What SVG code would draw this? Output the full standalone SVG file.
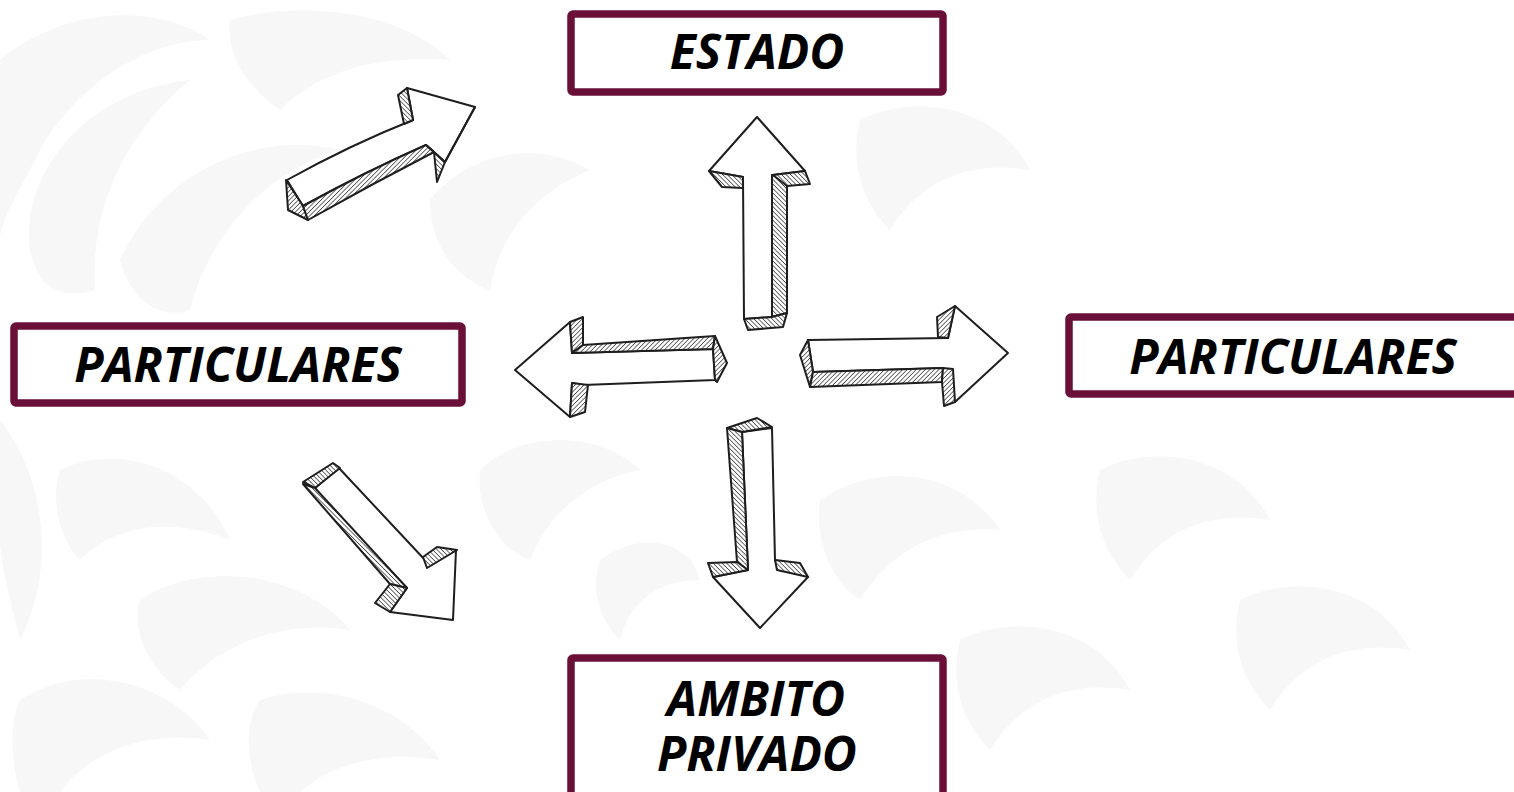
<svg xmlns="http://www.w3.org/2000/svg" width="1514" height="792" viewBox="0 0 1514 792">
<style>
.bg{fill:#f7f7f7}
.box{fill:#ffffff;stroke:#6a1038;stroke-width:7.5}
.lbl{font-family:"Open Sans","Noto Sans","DejaVu Sans",sans-serif;font-weight:700;font-style:italic;font-size:48px;fill:#000;text-anchor:middle}
.face{fill:#ffffff;stroke:#1e1e1e;stroke-width:2;stroke-linejoin:round}
.ha{fill:url(#hatchA);stroke:#1e1e1e;stroke-width:2;stroke-linejoin:round}
.hb{fill:url(#hatchB);stroke:#1e1e1e;stroke-width:2;stroke-linejoin:round}
</style>
<defs>
<pattern id="hatchA" width="3.2" height="3.2" patternUnits="userSpaceOnUse" patternTransform="rotate(45)">
<rect width="3.2" height="3.2" fill="#fff"/>
<line x1="0" y1="0" x2="0" y2="3.2" stroke="#222" stroke-width="1.3"/>
</pattern>
<pattern id="hatchB" width="3.2" height="3.2" patternUnits="userSpaceOnUse" patternTransform="rotate(-45)">
<rect width="3.2" height="3.2" fill="#fff"/>
<line x1="0" y1="0" x2="0" y2="3.2" stroke="#222" stroke-width="1.3"/>
</pattern>
</defs>
<rect width="1514" height="792" fill="#ffffff"/>
<g id="watermark">
<path class="bg" d="M0 60 C60 10 150 0 210 40 C150 40 80 80 40 150 C20 190 0 220 0 240 Z"/>
<path class="bg" d="M30 250 C20 170 90 90 190 80 C130 130 90 200 95 290 C60 300 40 290 30 250 Z"/>
<path class="bg" d="M120 260 C160 170 260 130 340 150 C270 170 210 230 190 310 C160 320 130 300 120 260 Z"/>
<path class="bg" d="M0 420 C40 470 60 560 20 640 C10 600 0 560 0 540 Z"/>
<path class="bg" d="M60 470 C120 440 200 470 230 540 C180 520 120 520 80 560 C60 540 50 500 60 470 Z"/>
<path class="bg" d="M140 600 C200 560 300 570 350 630 C290 620 220 640 180 690 C150 670 130 630 140 600 Z"/>
<path class="bg" d="M20 700 C80 660 170 680 210 740 C150 730 90 750 60 792 L20 792 C10 760 10 720 20 700 Z"/>
<path class="bg" d="M260 700 C320 680 400 700 440 760 C380 750 330 765 300 792 L260 792 C245 760 245 720 260 700 Z"/>
<path class="bg" d="M230 20 C300 0 400 10 450 60 C380 55 320 70 280 110 C250 90 225 55 230 20 Z"/>
<path class="bg" d="M430 200 C470 150 540 140 590 170 C540 190 500 230 490 290 C460 280 430 250 430 200 Z"/>
<path class="bg" d="M480 470 C520 430 600 430 640 470 C590 480 550 510 530 560 C500 550 475 510 480 470 Z"/>
<path class="bg" d="M820 500 C880 460 960 470 1000 530 C940 525 890 550 860 600 C830 580 815 540 820 500 Z"/>
<path class="bg" d="M960 640 C1020 610 1100 630 1130 690 C1070 680 1020 700 990 750 C960 720 950 680 960 640 Z"/>
<path class="bg" d="M1100 470 C1160 440 1240 460 1270 520 C1210 510 1160 530 1130 580 C1100 550 1090 510 1100 470 Z"/>
<path class="bg" d="M1240 600 C1300 570 1380 590 1410 650 C1350 640 1300 660 1270 710 C1240 680 1230 640 1240 600 Z"/>
<path class="bg" d="M860 120 C920 90 1000 110 1030 170 C970 160 920 180 890 230 C860 200 850 160 860 120 Z"/>
<path class="bg" d="M600 560 C640 530 690 540 700 580 C660 580 630 600 620 640 C600 620 590 590 600 560 Z"/>
</g>
<g id="connectors">
<g id="arrow-up-right">
<path class="face" d="M475 107 L407 88 L413 120 Q350 145 287 180 L303 206 Q365 172 426 145 L445 162 Z"/>
<path class="hb" d="M398 95 L407 88 L413 120 L404 124 Z"/>
<path class="ha" d="M286 180 L303 206 L308 220 L288 210 Z"/>
<path class="ha" d="M303 206 Q365 172 426 145 L434 152 Q370 185 308 220 Z"/>
<path class="hb" d="M426 145 L445 162 L437 182 L434 152 Z"/>
<path d="M445 162 L475 107" fill="none" stroke="#1e1e1e" stroke-width="2"/>
</g>
<g id="arrow-down-right">
<path class="face" d="M338 467 L425 560 L456 550 L453 620 L390 612 L407 588 L313 490 Z"/>
<path class="hb" d="M303 482 L333 463 L340 468 L315 488 Z"/>
<path class="hb" d="M303 484 L315 488 L407 588 L390 584 Z"/>
<path class="hb" d="M390 584 L407 588 L390 612 L375 603 Z"/>
<path class="hb" d="M423 557 L437 547 L457 550 L427 568 Z"/>
</g>
<g id="arrow-up">
<path class="face" d="M757 117 L709 171 L743 177 L744 319 L772 317 L772 175 L805 171 Z"/>
<path class="hb" d="M709 171 L743 177 L743 188 L722 187 Z"/>
<path class="hb" d="M772 175 L787 177 L787 313 L772 317 Z"/>
<path class="hb" d="M744 319 L772 317 L787 313 L783 327 L748 330 Z"/>
<path class="hb" d="M773 175 L805 171 L810 184 L787 186 Z"/>
</g>
<g id="arrow-left">
<path class="face" d="M515 370 L570 322 L572 353 L713 349 L715 380 L583 385 L572 383 L570 417 Z"/>
<path class="ha" d="M570 322 L583 317 L583 345 L572 353 Z"/>
<path class="ha" d="M583 345 L715 336 L713 349 L572 353 Z"/>
<path class="ha" d="M715 336 L727 363 L717 382 L715 380 L713 349 Z"/>
<path class="ha" d="M572 383 L588 385 L585 412 L570 417 Z"/>
</g>
<g id="arrow-right">
<path class="face" d="M1008 353 L955 306 L948 338 L808 340 L813 372 L943 368 L955 402 Z"/>
<path class="ha" d="M937 317 L955 306 L948 338 L938 337 Z"/>
<path class="ha" d="M808 340 L800 355 L810 387 L813 372 Z"/>
<path class="ha" d="M813 372 L943 368 L942 382 L810 387 Z"/>
<path class="ha" d="M943 368 L953 369 L955 402 L944 406 L942 382 Z"/>
</g>
<g id="arrow-down">
<path class="face" d="M742 432 L772 428 L775 560 L808 577 L760 628 L713 577 L748 570 Z"/>
<path class="hb" d="M727 428 L757 418 L772 427 L742 432 Z"/>
<path class="hb" d="M727 428 L742 432 L748 570 L737 562 Z"/>
<path class="hb" d="M708 563 L737 562 L748 570 L713 577 Z"/>
<path class="hb" d="M775 560 L800 563 L808 577 L777 570 Z"/>
</g>
</g>
<g id="node-estado">
<rect class="box" x="571" y="14" width="372" height="78" rx="2"/>
<text class="lbl" x="757" y="69">ESTADO</text>
</g>
<g id="node-particulares-left">
<rect class="box" x="14" y="326" width="448" height="77" rx="2"/>
<text class="lbl" x="238" y="382">PARTICULARES</text>
</g>
<g id="node-particulares-right">
<rect class="box" x="1069" y="317" width="460" height="77" rx="2"/>
<text class="lbl" x="1293" y="374">PARTICULARES</text>
</g>
<g id="node-ambito">
<rect class="box" x="571" y="658" width="372" height="150" rx="2"/>
<text class="lbl" x="756" y="716">AMBITO</text>
<text class="lbl" x="757" y="771">PRIVADO</text>
</g>
</svg>
